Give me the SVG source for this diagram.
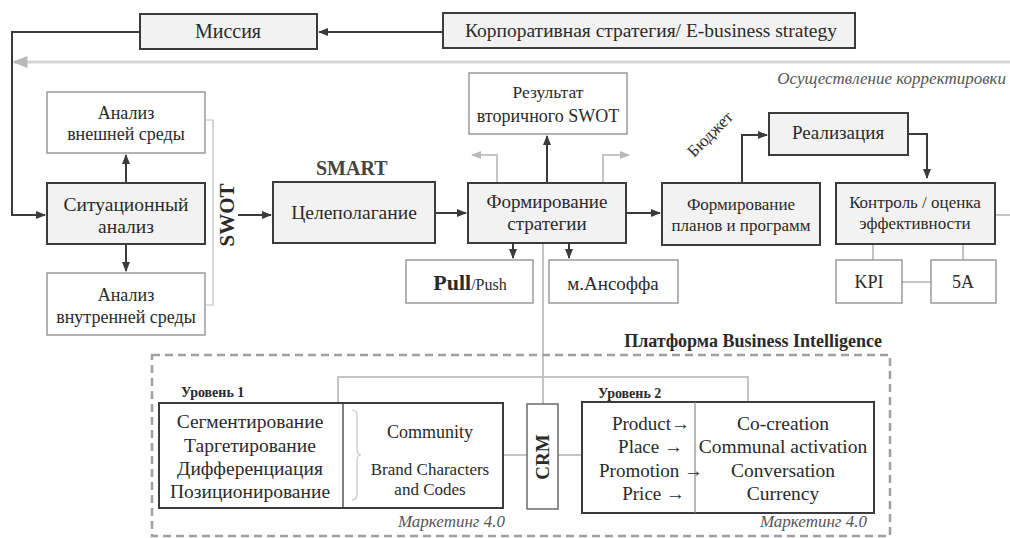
<svg xmlns="http://www.w3.org/2000/svg" width="1010" height="538" viewBox="0 0 1010 538" font-family="'Liberation Serif', 'DejaVu Serif', serif">
<defs>
<marker id="ad" viewBox="0 0 10 10" refX="9" refY="5" markerWidth="5" markerHeight="5" orient="auto-start-reverse" markerUnits="strokeWidth"><path d="M0,1 L10,5 L0,9 z" fill="#3a3a3a"/></marker>
<marker id="ag" viewBox="0 0 10 10" refX="9" refY="5" markerWidth="5" markerHeight="5" orient="auto-start-reverse" markerUnits="strokeWidth"><path d="M0,1 L10,5 L0,9 z" fill="#b8b8b8"/></marker>
<style>
text{font-family:'Liberation Serif','DejaVu Serif',serif;fill:#2a2a2a}
.main{fill:#f2f2f2;stroke:#3c3c3c;stroke-width:2}
.sub{fill:#ffffff;stroke:#8a8a8a;stroke-width:1.3}
.lvl{fill:#ffffff;stroke:#3c3c3c;stroke-width:2}
.dk{fill:none;stroke:#3a3a3a;stroke-width:2}
.gr{fill:none;stroke:#c4c4c4;stroke-width:2}
.gr3{fill:none;stroke:#d4d4d4;stroke-width:3}
.c{text-anchor:middle}
.f19{font-size:19px}
.f18{font-size:18px}
.f17{font-size:17px}
.it{font-style:italic;font-size:17px;fill:#555}
</style>
</defs>

<g id="connectors">
<path class="dk" d="M443,32 L319,32" marker-end="url(#ad)"/>
<path class="dk" d="M140,32 L12,32 L12,215 L45,215" marker-end="url(#ad)"/>
<path class="gr3" d="M1010,62 L14,62" marker-end="url(#ag)"/>
<path class="dk" d="M126,183 L126,155" marker-end="url(#ad)"/>
<path class="dk" d="M126,244 L126,271" marker-end="url(#ad)"/>
<path fill="none" stroke="#bdbdbd" stroke-width="1.2" d="M206,120 L213,120 L213,305 L206,305"/>
<path class="dk" d="M238,215 L271,215" marker-end="url(#ad)"/>
<path class="dk" d="M435,213 L466,213" marker-end="url(#ad)"/>
<path class="dk" d="M547,183 L547,136" marker-end="url(#ad)"/>
<path class="gr" d="M497,183 L497,155 L472,155" marker-end="url(#ag)"/>
<path class="gr" d="M603,183 L603,155 L629,155" marker-end="url(#ag)"/>
<path class="dk" d="M513,243 L513,258" marker-end="url(#ad)"/>
<path class="dk" d="M569,243 L569,258" marker-end="url(#ad)"/>
<path class="gr" d="M543,243 L543,404"/>
<path class="dk" d="M626,213 L660,213" marker-end="url(#ad)"/>
<path class="dk" d="M742,183 L742,135 L767,135" marker-end="url(#ad)"/>
<path class="dk" d="M908,134 L927,134 L927,178" marker-end="url(#ad)"/>
<path class="gr" d="M995,215 L1010,215"/>
<path class="gr" d="M873,244 L873,260"/>
<path class="gr" d="M963,244 L963,260"/>
<path class="gr" d="M902,282 L931,282"/>
<path class="gr" d="M338,403 L338,377 L748,377 L748,402"/>
<path class="gr" d="M503,455 L527,455"/>
<path class="gr" d="M558,455 L582,455"/>
<rect x="152" y="355" width="738" height="181" fill="none" stroke="#a0a0a0" stroke-width="2.5" stroke-dasharray="8,5"/>
</g>

<g id="missiya"><rect class="main" x="140" y="14" width="177" height="35"/><text class="c" font-size="20" x="228" y="38">Миссия</text></g>
<g id="korp"><rect class="main" x="443" y="13" width="412" height="35"/><text class="c" font-size="19.5" x="651" y="37">Корпоративная стратегия/ E-business strategy</text></g>
<text class="it" x="1006" y="84" text-anchor="end">Осуществление корректировки</text>

<g id="vnesh"><rect class="sub" x="47" y="92" width="158" height="61"/><text class="c f18" x="126" y="119">Анализ</text><text class="c f18" x="126" y="140">внешней среды</text></g>
<g id="sit"><rect class="main" x="47" y="183" width="158" height="61"/><text class="c" font-size="19.5" x="126" y="211">Ситуационный</text><text class="c" font-size="19.5" x="126" y="233">анализ</text></g>
<g id="vnutr"><rect class="sub" x="47" y="273" width="158" height="62"/><text class="c f18" x="126" y="301">Анализ</text><text class="c f18" x="126" y="323">внутренней среды</text></g>
<text class="c" font-size="21" font-weight="bold" transform="translate(234,215) rotate(-90)">SWOT</text>

<text font-size="20" font-weight="bold" x="316" y="175" style="fill:#444">SMART</text>
<g id="tsel"><rect class="main" x="273" y="182" width="162" height="61"/><text class="c" font-size="19.5" x="354" y="219">Целеполагание</text></g>

<g id="rez"><rect class="sub" x="469" y="73" width="158" height="61"/><text class="c" font-size="17.5" x="548" y="98">Результат</text><text class="c f18" x="548" y="122">вторичного SWOT</text></g>
<g id="formstr"><rect class="main" x="468" y="183" width="158" height="60"/><text class="c f19" x="547" y="208">Формирование</text><text class="c f19" x="547" y="230">стратегии</text></g>
<g id="pull"><rect class="sub" x="406" y="260" width="127" height="43"/><text class="c" x="470" y="290"><tspan font-size="22" font-weight="bold">Pull</tspan><tspan font-size="16">/Push</tspan></text></g>
<g id="ansoff"><rect class="sub" x="549" y="260" width="129" height="43"/><text class="c" font-size="19" x="613" y="290">м.Ансоффа</text></g>

<g id="plany"><rect class="main" x="662" y="183" width="158" height="62"/><text class="c f17" x="741" y="210">Формирование</text><text class="c f17" x="741" y="231">планов и программ</text></g>
<text font-size="17" transform="translate(694,158) rotate(-45)">Бюджет</text>
<g id="real"><rect class="main" x="769" y="113" width="139" height="42"/><text class="c f19" x="838" y="139">Реализация</text></g>
<g id="kontrol"><rect class="main" x="836" y="183" width="159" height="61"/><text class="c f17" x="915" y="208">Контроль  /  оценка</text><text class="c f17" x="915" y="229">эффективности</text></g>
<g id="kpi"><rect class="sub" x="836" y="260" width="66" height="43"/><text class="c f18" x="869" y="288">KPI</text></g>
<g id="a5"><rect class="sub" x="931" y="260" width="65" height="43"/><text class="c f18" x="963" y="288">5A</text></g>

<text font-size="18" font-weight="bold" x="882" y="347" text-anchor="end">Платформа Business Intelligence</text>

<g id="level1">
<text font-size="14" font-weight="bold" x="181" y="397">Уровень 1</text>
<rect class="lvl" x="159" y="403" width="344" height="105"/>
<line x1="343" y1="403" x2="343" y2="508" stroke="#3c3c3c" stroke-width="1.3"/>
<text class="c" font-size="19.5" x="250" y="428">Сегментирование</text>
<text class="c" font-size="19.5" x="250" y="452">Таргетирование</text>
<text class="c" font-size="19.5" x="250" y="475">Дифференциация</text>
<text class="c" font-size="19.5" x="250" y="498">Позиционирование</text>
<path fill="none" stroke="#c4c4c4" stroke-width="1.2" d="M352,410 Q357,410 357,416 L357,449 Q357,455 361,455 Q357,455 357,461 L357,494 Q357,500 352,500"/>
<text class="c f18" x="430" y="438">Community</text>
<text class="c f17" x="430" y="475">Brand Characters</text>
<text class="c f17" x="430" y="495">and Codes</text>
<text class="it" x="505" y="527" text-anchor="end">Маркетинг 4.0</text>
</g>

<g id="crm"><rect x="527" y="404" width="31" height="105" fill="#fff" stroke="#6a6a6a" stroke-width="1.5"/><text class="c" font-size="19" font-weight="bold" transform="translate(549,457) rotate(-90)">CRM</text></g>

<g id="level2">
<text font-size="14" font-weight="bold" x="598" y="398">Уровень 2</text>
<rect class="lvl" x="582" y="402" width="292" height="111"/>
<line x1="695" y1="402" x2="695" y2="513" stroke="#8a8a8a" stroke-width="1.2"/>
<text class="f19" x="690" y="430" text-anchor="end">Product→</text>
<text class="f19" x="683" y="453" text-anchor="end">Place →</text>
<text class="f19" x="703" y="477" text-anchor="end">Promotion →</text>
<text class="f19" x="685" y="500" text-anchor="end">Price →</text>
<text class="c" font-size="19.5" x="783" y="430">Co-creation</text>
<text class="c" font-size="19.5" x="783" y="453">Communal activation</text>
<text class="c" font-size="19.5" x="783" y="477">Conversation</text>
<text class="c" font-size="19.5" x="783" y="500">Currency</text>
<text class="it" x="867" y="527" text-anchor="end">Маркетинг 4.0</text>
</g>
</svg>
